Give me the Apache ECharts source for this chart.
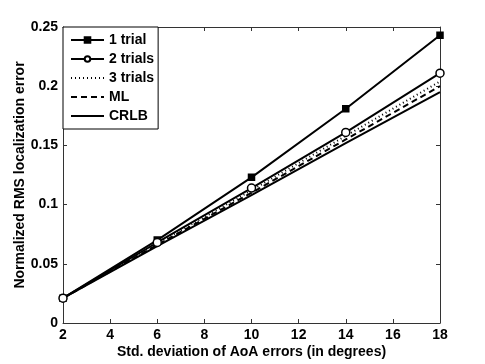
<!DOCTYPE html>
<html>
<head>
<meta charset="utf-8">
<script src="https://cdn.jsdelivr.net/npm/echarts@6/dist/echarts.min.js"></script>
<style>
  html, body { margin: 0; padding: 0; background: #fff; }
  #chart { width: 485px; height: 364px; }
</style>
</head>
<body>
<div id="chart"></div>
<script>
  // AoA std. deviation (degrees)
  var xValues = [2, 6, 10, 14, 18];
  var xTicks = [2, 4, 6, 8, 10, 12, 14, 16, 18];
  var yTicks = [0, 0.05, 0.1, 0.15, 0.2, 0.25];

  var trial1 = [0.021, 0.070, 0.123, 0.181, 0.243];
  var trial2 = [0.021, 0.068, 0.114, 0.161, 0.211];
  var trial3 = [0.021, 0.067, 0.112, 0.158, 0.204];
  var mlErr  = [0.021, 0.066, 0.110, 0.155, 0.200];
  var crlb   = [0.021, 0.065, 0.108, 0.152, 0.195];

  function pairs(ys) {
    return xValues.map(function (x, i) { return [x, ys[i]]; });
  }

  var font = 'Liberation Sans, Arial, sans-serif';
  var black = '#000';
  var noMark = { color: 'transparent', borderColor: 'transparent', borderWidth: 0 };

  function lineSeries(name, ys, type, symbol, size, fill) {
    return {
      name: name,
      type: 'line',
      data: pairs(ys),
      symbol: symbol,
      symbolSize: size,
      showSymbol: symbol !== 'none',
      lineStyle: { color: black, width: 2, type: type },
      itemStyle: { color: fill, borderColor: black, borderWidth: 1.5 },
      emphasis: { disabled: true },
      z: 3
    };
  }

  var chart = echarts.init(document.getElementById('chart'), null, { renderer: 'canvas' });
  chart.setOption({
    animation: false,
    backgroundColor: '#fff',
    grid: { left: 63, right: 45, top: 27, bottom: 41, containLabel: false },
    legend: {
      left: 63, top: 27,
      orient: 'vertical',
      backgroundColor: '#fff',
      borderColor: black, borderWidth: 1, borderRadius: 0,
      padding: [6, 4, 6, 7],
      itemWidth: 33, itemHeight: 7, itemGap: 5,
      textStyle: { fontFamily: font, fontWeight: 'bold', fontSize: 14, color: black },
      data: [
        { name: '1 trial' },
        { name: '2 trials' },
        { name: '3 trials', itemStyle: noMark },
        { name: 'ML', itemStyle: noMark },
        { name: 'CRLB', itemStyle: noMark }
      ]
    },
    xAxis: [{
      type: 'value', min: 2, max: 18, interval: 2,
      name: 'Std. deviation of AoA errors (in degrees)',
      nameLocation: 'middle', nameGap: 22, nameMoveOverlap: false,
      nameTextStyle: { fontFamily: font, fontWeight: 'bold', fontSize: 14, color: black },
      axisLine: { show: true, lineStyle: { color: '#333', width: 1 } },
      axisTick: { show: true, inside: true, length: 4, lineStyle: { color: '#333' } },
      axisLabel: { fontFamily: font, fontWeight: 'bold', fontSize: 14, color: black, margin: 5 },
      splitLine: { show: false }
    }, {
      type: 'value', min: 2, max: 18, interval: 2, position: 'top',
      axisLine: { show: true, onZero: false, lineStyle: { color: '#333', width: 1 } },
      axisTick: { show: true, inside: true, length: 4, lineStyle: { color: '#333' } },
      axisLabel: { show: false },
      splitLine: { show: false }
    }],
    yAxis: [{
      type: 'value', min: 0, max: 0.25, interval: 0.05,
      name: 'Normalized RMS localization error',
      nameLocation: 'middle', nameGap: 36, nameMoveOverlap: false,
      nameTextStyle: { fontFamily: font, fontWeight: 'bold', fontSize: 14, color: black },
      axisLine: { show: true, lineStyle: { color: '#333', width: 1 } },
      axisTick: { show: true, inside: true, length: 4, lineStyle: { color: '#333' } },
      axisLabel: {
        fontFamily: font, fontWeight: 'bold', fontSize: 14, color: black, margin: 5,
        formatter: function (v) { return String(+v.toFixed(2)); }
      },
      splitLine: { show: false }
    }, {
      type: 'value', min: 0, max: 0.25, interval: 0.05, position: 'right',
      axisLine: { show: true, onZero: false, lineStyle: { color: '#333', width: 1 } },
      axisTick: { show: true, inside: true, length: 4, lineStyle: { color: '#333' } },
      axisLabel: { show: false },
      splitLine: { show: false }
    }],
    series: [
      lineSeries('1 trial', trial1, 'solid', 'rect', 6, black),
      lineSeries('2 trials', trial2, 'solid', 'circle', 8, '#fff'),
      lineSeries('3 trials', trial3, [1, 3], 'none', 0, black),
      lineSeries('ML', mlErr, [6, 4], 'none', 0, black),
      lineSeries('CRLB', crlb, 'solid', 'none', 0, black)
    ]
  });
</script>
</body>
</html>
